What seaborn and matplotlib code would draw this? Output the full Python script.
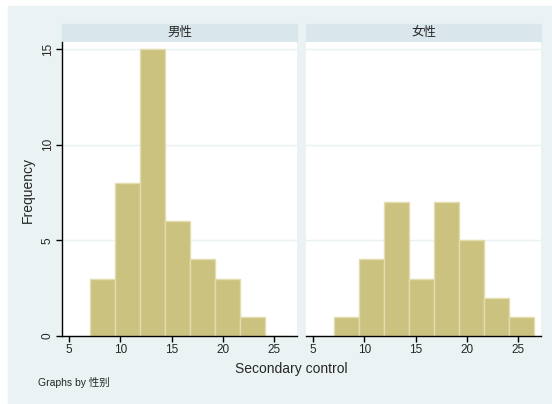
import matplotlib
matplotlib.use("Agg")
from matplotlib import pyplot as plt
from matplotlib.patches import Rectangle
import seaborn as sns
import pandas as pd

# histogram bins (Secondary control)
bin_edges = [7.03, 9.46, 11.89, 14.32, 16.75, 19.18, 21.61, 24.04, 26.47]
male_counts = [3, 8, 15, 6, 4, 3, 1, 0]
female_counts = [1, 4, 7, 3, 7, 5, 2, 1]
panels = ['男性', '女性']
x_ticks = [5, 10, 15, 20, 25]
y_ticks = [0, 5, 10, 15]

centers = [(a + b) / 2 for a, b in zip(bin_edges[:-1], bin_edges[1:])]
df = pd.DataFrame({
    'Secondary control': centers * 2,
    'count': male_counts + female_counts,
    '性别': [panels[0]] * len(centers) + [panels[1]] * len(centers),
})

sns.set_theme(style='white')
plt.rcParams['font.family'] = ['Liberation Sans', 'Noto Sans CJK SC']

bg = '#eaf2f3'
strip = '#d9e6eb'
bar = '#cac27e'
W, H = 552, 404

fig = plt.figure(figsize=(5.52, 4.04), dpi=100, facecolor='white')
fig.patches.append(Rectangle((8 / W, 0), 1 - 8 / W, 1 - 6 / H,
                             transform=fig.transFigure, color=bg, zorder=-10))

def px(x0, y0, x1, y1):
    return [x0 / W, 1 - y1 / H, (x1 - x0) / W, (y1 - y0) / H]

lefts = [62, 306]
for i, name in enumerate(panels):
    x0 = lefts[i]
    ax = fig.add_axes(px(x0, 42, x0 + 235, 336))
    ax.set_zorder(1)
    sub = df[df['性别'] == name]
    sns.histplot(data=sub, x='Secondary control', weights='count', bins=bin_edges,
                 ax=ax, color=bar, edgecolor='#e2dcae', linewidth=1, alpha=1)
    ax.set_facecolor('white')
    ax.set_xlim(4.3, 27.2)
    ax.set_ylim(0, 15.37)
    ax.set_yticks(y_ticks)
    ax.set_xticks(x_ticks)
    ax.yaxis.grid(True, color=bg, linewidth=1)
    ax.set_axisbelow(True)
    for s in ['top', 'right']:
        ax.spines[s].set_visible(False)
    ax.spines['bottom'].set_color('black')
    ax.spines['bottom'].set_linewidth(1)
    ax.tick_params(axis='x', direction='out', length=4, width=1, color='black',
                   labelsize=8.5, pad=2, bottom=True)
    if i == 0:
        ax.spines['left'].set_color('black')
        ax.spines['left'].set_linewidth(1)
        ax.tick_params(axis='y', direction='out', length=4, width=1, color='black',
                       labelsize=8.5, pad=2, left=True)
        for t in ax.get_yticklabels():
            t.set_rotation(90)
            t.set_va('center')
    else:
        ax.spines['left'].set_visible(False)
        ax.tick_params(axis='y', left=False, labelleft=False)
    ax.set_xlabel('')
    ax.set_ylabel('')
    # strip header
    fig.patches.append(Rectangle((x0 / W, 1 - 42 / H), 235 / W, 18 / H,
                                 transform=fig.transFigure, color=strip, zorder=-5))
    fig.text((x0 + 117.5) / W, 1 - 33 / H, name, ha='center', va='center', fontsize=9)

fig.text(28 / W, 1 - 190 / H, 'Frequency', rotation=90, ha='center', va='center', fontsize=10)
fig.text(291 / W, 1 - 369 / H, 'Secondary control', ha='center', va='center', fontsize=10)
fig.text(38 / W, 1 - 383 / H, 'Graphs by 性别', ha='left', va='center', fontsize=7.5)

plt.savefig('out.png', dpi=100, facecolor='white')
